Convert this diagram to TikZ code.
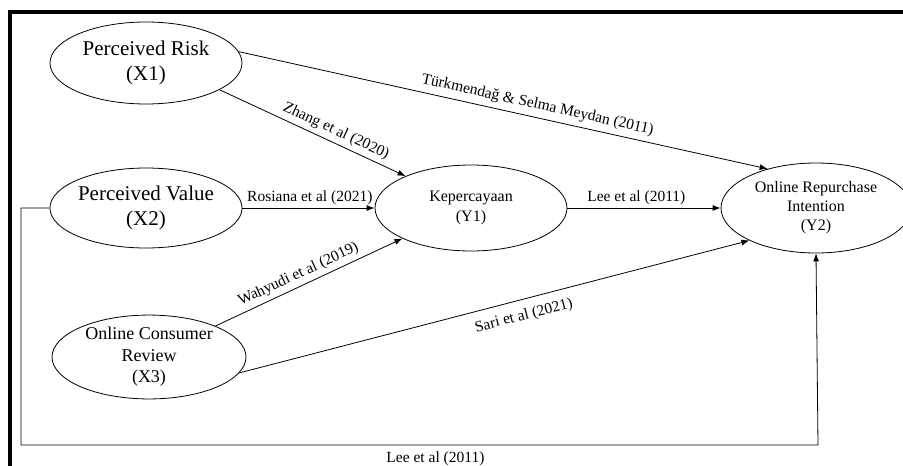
\documentclass[tikz,border=0pt]{standalone}
\usepackage{fontspec}
\setmainfont{Liberation Serif}
\usetikzlibrary{arrows.meta,shapes.geometric,calc}
\tikzset{
  var/.style={draw, ellipse, inner sep=0pt, align=center, line width=0.8pt},
  conn/.style={draw, line width=0.8pt, -{Latex[length=8pt,width=6pt]}},
  lab/.style={font=\fontsize{15.5}{17}\selectfont, inner sep=1pt},
  frame/.style={line width=4pt}
}
\begin{document}
\begin{tikzpicture}[x=1pt,y=-1pt]
\useasboundingbox (0,0) rectangle (903,466);
% frame
\coordinate (fa) at (8,12);
\coordinate (fb) at (903,12);
\coordinate (fc) at (10,10);
\coordinate (fd) at (10,466);
\draw[frame] (fa) -- (fb);
\draw[frame] (fc) -- (fd);
% variables
\node[var, minimum width=192pt, minimum height=82pt, font=\fontsize{21}{25}\selectfont] (X1) at (146,63) {Perceived Risk\\(X1)};
\node[var, minimum width=190pt, minimum height=80pt, font=\fontsize{21}{25}\selectfont] (X2) at (146,208) {Perceived Value\\(X2)};
\node[var, minimum width=194pt, minimum height=82pt, font=\fontsize{18}{21.5}\selectfont] (X3) at (149,357) {Online Consumer\\Review\\(X3)};
\node[var, minimum width=192pt, minimum height=86pt, font=\fontsize{16}{20}\selectfont] (Y1) at (471,208) {Kepercayaan\\(Y1)};
\node[var, minimum width=190pt, minimum height=90pt, font=\fontsize{16}{19}\selectfont] (Y2) at (816,208) {Online Repurchase\\Intention\\(Y2)};
% connectors
\draw[conn] (X1.7) -- node[lab, pos=0.56, sloped, above=4pt] {Türkmendağ \& Selma Meydan (2011)} (Y2.141);
\draw[conn] (X1.-20) -- node[lab, pos=0.6, sloped, above=3pt] {Zhang et al (2020)} (Y1.154);
\draw[conn] (X2.east) -- node[lab, pos=0.51, above=2pt] {Rosiana et al (2021)} (Y1.west);
\draw[conn] (Y1.east) -- node[lab, pos=0.45, above=2pt] {Lee et al (2011)} (Y2.west);
\draw[conn] (X3.25) -- node[lab, pos=0.47, sloped, above=3pt] {Wahyudi et al (2019)} (Y1.204);
\draw[conn] (X3.-10) -- node[lab, pos=0.55, sloped, below=8pt] {Sari et al (2021)} (Y2.206);
\coordinate (b1) at (21,208);
\coordinate (b2) at (21,445);
\coordinate (b3) at (818,445);
\draw[conn] (X2.west) -- (b1) -- (b2) -- node[lab, pos=0.52, below=5pt] {Lee et al (2011)} (b3) -- (Y2.south);
\end{tikzpicture}
\end{document}
